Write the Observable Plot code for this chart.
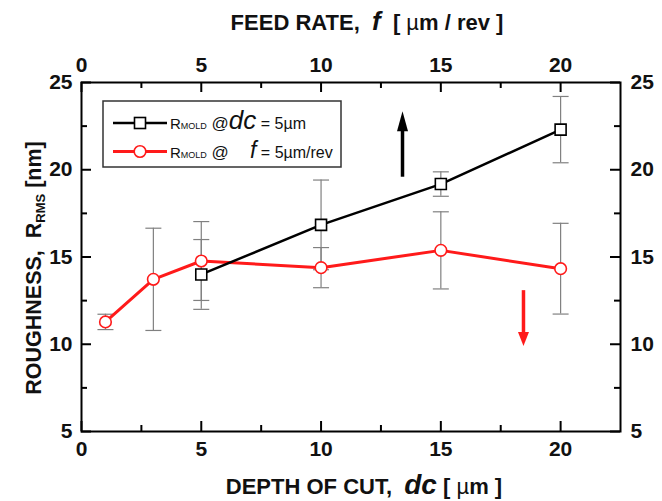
<!DOCTYPE html>
<html>
<head>
<meta charset="utf-8">
<script src="https://cdn.jsdelivr.net/npm/d3@7"></script>
<script src="https://cdn.jsdelivr.net/npm/@observablehq/plot@0.6"></script>
<style>
  html, body { margin: 0; padding: 0; background: #fff; }
  #chart svg { display: block; }
</style>
</head>
<body>
<div id="chart"></div>
<script>
// ---- data ----
// red series: R_MOLD at f = 5 µm/rev, vs depth of cut dc (bottom axis)
const dcValues = [1, 3, 5, 10, 15, 20];
const roughAtF5 = [11.28, 13.72, 14.77, 14.39, 15.38, 14.33];
const errAtF5 = [0.44, 2.93, 2.26, 1.15, 2.21, 2.6];
// black series: R_MOLD at dc = 5 µm, vs feed rate f (top axis)
const feedValues = [5, 10, 15, 20];
const roughAtDc5 = [14.0, 16.84, 19.18, 22.3];
const errAtDc5 = [2.0, 2.57, 0.7, 1.9];
// tick labels
const xMajorTicks = [0, 5, 10, 15, 20];
const xMinorTicks = [2.5, 7.5, 12.5, 17.5];
const yMajorTicks = [5, 10, 15, 20, 25];
const yMinorTicks = [7.5, 12.5, 17.5, 22.5];
// direction arrows: x, shaft start, shaft end, tip
const arrowX = [13.4, 18.45];
const arrowStart = [19.6, 13.1];
const arrowEnd = [22.3, 10.6];
const arrowTip = [23.35, 9.9];
const arrowColors = ["black", "#ff1a1a"];

const red = dcValues.map((x, i) => ({x, y: roughAtF5[i], lo: roughAtF5[i] - errAtF5[i], hi: roughAtF5[i] + errAtF5[i]}));
const black = feedValues.map((x, i) => ({x, y: roughAtDc5[i], lo: roughAtDc5[i] - errAtDc5[i], hi: roughAtDc5[i] + errAtDc5[i]}));
const errs = [...red, ...black];
const arrows = arrowX.map((x, i) => ({x, y1: arrowStart[i], y2: arrowEnd[i], tip: arrowTip[i], color: arrowColors[i], kind: i}));

const W = 662, H = 501, mL = 81, mR = 42, mT = 82, mB = 70;
const fW = W - mL - mR, fH = H - mT - mB;
const majorLen = 10, minorLen = 6;

const capSymbol = {draw(ctx, size) { const r = Math.sqrt(size / Math.PI); ctx.moveTo(-r, 0); ctx.lineTo(r, 0); }};
const headBlack = {draw(ctx) { ctx.moveTo(0, 0); ctx.lineTo(5.5, 20); ctx.lineTo(-5.5, 20); ctx.closePath(); }};
const headRed = {draw(ctx) { ctx.moveTo(0, 0); ctx.lineTo(5.5, 14); ctx.lineTo(-5.5, 14); ctx.closePath(); }};

const tickFont = {fontSize: 21, fontWeight: "bold"};

const chart = Plot.plot({
  width: W, height: H,
  marginLeft: mL, marginRight: mR, marginTop: mT, marginBottom: mB,
  style: {fontFamily: "'Liberation Sans', Arial, sans-serif", background: "white", overflow: "visible"},
  x: {domain: [0, 22.5]},
  y: {domain: [5, 25]},
  marks: [
    // axes labels
    Plot.axisX({anchor: "bottom", ticks: xMajorTicks, tickSize: 0, tickPadding: 10, label: null, tickFormat: d => d, ...tickFont, fill: "#111"}),
    Plot.axisX({anchor: "top", ticks: xMajorTicks, tickSize: 0, tickPadding: 11, label: null, tickFormat: d => d, ...tickFont, fill: "#111"}),
    Plot.axisY({anchor: "left", ticks: yMajorTicks, tickSize: 0, tickPadding: 9, label: null, tickFormat: d => d, ...tickFont, fill: "#111"}),
    Plot.axisY({anchor: "right", ticks: yMajorTicks, tickSize: 0, tickPadding: 10, label: null, tickFormat: d => d, ...tickFont, fill: "#111"}),
    // inward ticks
    Plot.tickX(xMajorTicks, {x: d => d, insetTop: fH - majorLen, strokeWidth: 2}),
    Plot.tickX(xMinorTicks, {x: d => d, insetTop: fH - minorLen, strokeWidth: 2}),
    Plot.tickX(xMajorTicks, {x: d => d, insetBottom: fH - majorLen, strokeWidth: 2}),
    Plot.tickX(xMinorTicks, {x: d => d, insetBottom: fH - minorLen, strokeWidth: 2}),
    Plot.tickY(yMajorTicks, {y: d => d, insetRight: fW - majorLen, strokeWidth: 2}),
    Plot.tickY(yMinorTicks, {y: d => d, insetRight: fW - minorLen, strokeWidth: 2}),
    Plot.tickY(yMajorTicks, {y: d => d, insetLeft: fW - majorLen, strokeWidth: 2}),
    Plot.tickY(yMinorTicks, {y: d => d, insetLeft: fW - minorLen, strokeWidth: 2}),
    // error bars
    Plot.ruleX(errs, {x: "x", y1: "lo", y2: "hi", stroke: "#808080", strokeWidth: 1.2}),
    Plot.dot(errs, {x: "x", y: "hi", symbol: capSymbol, r: 8, stroke: "#808080", strokeWidth: 1.2}),
    Plot.dot(errs, {x: "x", y: "lo", symbol: capSymbol, r: 8, stroke: "#808080", strokeWidth: 1.2}),
    // lines
    Plot.line(red, {x: "x", y: "y", stroke: "#ff1a1a", strokeWidth: 3}),
    Plot.line(black, {x: "x", y: "y", stroke: "black", strokeWidth: 2.5}),
    // markers
    Plot.dot(red, {x: "x", y: "y", symbol: "circle", r: 5.8, fill: "white", stroke: "#ff1a1a", strokeWidth: 1.6}),
    Plot.dot(black, {x: "x", y: "y", symbol: "square", r: 6.2, fill: "white", stroke: "black", strokeWidth: 1.6}),
    // arrows
    Plot.link(arrows, {x1: "x", x2: "x", y1: "y1", y2: "y2", stroke: "color", strokeWidth: 3.5}),
    Plot.dot(arrows.filter(a => a.kind === 0), {x: "x", y: "tip", symbol: headBlack, fill: "color", stroke: "none"}),
    Plot.dot(arrows.filter(a => a.kind === 1), {x: "x", y: "tip", symbol: headRed, rotate: 180, fill: "color", stroke: "none"}),
    Plot.frame({stroke: "black", strokeWidth: 2})
  ]
});
document.getElementById("chart").appendChild(chart);

// ---- titles and legend ----
const svg = d3.select(chart);
const FF = "'Liberation Sans', Arial, sans-serif";

function title(sel, parts) {
  parts.forEach(p => {
    const t = sel.append("tspan").text(p.t);
    if (p.s) t.attr("font-size", p.s);
    if (p.i) t.attr("font-style", "italic");
    if (p.w) t.attr("font-weight", p.w);
    if (p.dy) t.attr("dy", p.dy);
    if (p.x != null) t.attr("x", p.x);
  });
}

const bottomTitle = svg.append("text").attr("x", 364).attr("y", 494).attr("text-anchor", "middle")
  .attr("font-family", FF).attr("font-weight", "bold").attr("font-size", 22).attr("fill", "#111")
  .attr("xml:space", "preserve").style("white-space", "pre");
title(bottomTitle, [{t: "DEPTH OF CUT,  "}, {t: "dc", i: true, s: 28}, {t: " [ "}, {t: "µ", w: "normal"}, {t: "m ]"}]);

const topTitle = svg.append("text").attr("x", 367).attr("y", 30).attr("text-anchor", "middle")
  .attr("font-family", FF).attr("font-weight", "bold").attr("font-size", 22).attr("fill", "#111")
  .attr("xml:space", "preserve").style("white-space", "pre");
title(topTitle, [{t: "FEED RATE,  "}, {t: "f", i: true, s: 26}, {t: "  [ "}, {t: "µ", w: "normal"}, {t: "m / rev ]"}]);

const yTitle = svg.append("text").attr("transform", "translate(41,268) rotate(-90)").attr("text-anchor", "middle")
  .attr("font-family", FF).attr("font-weight", "bold").attr("font-size", 21.5).attr("fill", "#111")
  .attr("xml:space", "preserve").style("white-space", "pre");
title(yTitle, [{t: "ROUGHNESS,  R"}, {t: "RMS", s: 13, dy: 4}, {t: " [nm]", dy: -4}]);

// legend
const lg = svg.append("g");
lg.append("rect").attr("x", 103).attr("y", 101).attr("width", 238).attr("height", 66)
  .attr("fill", "white").attr("stroke", "#333").attr("stroke-width", 1.5);
const rows = [
  {y: 123, color: "black", sw: 2.5, marker: "square", parts: [
    {t: "R", x: 170, s: 15}, {t: "MOLD", s: 9}, {t: " @", s: 17},
    {t: "dc", s: 26, i: true}, {t: " = 5µm", s: 16}]},
  {y: 151.5, color: "#ff1a1a", sw: 3, marker: "circle", parts: [
    {t: "R", x: 170, s: 15}, {t: "MOLD", s: 9}, {t: " @", s: 17},
    {t: "f", x: 250, s: 23, i: true}, {t: " = 5µm/rev", s: 16}]}
];
rows.forEach(r => {
  lg.append("line").attr("x1", 113).attr("x2", 167).attr("y1", r.y).attr("y2", r.y).attr("stroke", r.color).attr("stroke-width", r.sw);
  if (r.marker === "square") {
    lg.append("rect").attr("x", 134.5).attr("y", r.y - 5.5).attr("width", 11).attr("height", 11).attr("fill", "white").attr("stroke", r.color).attr("stroke-width", 1.6);
  } else {
    lg.append("circle").attr("cx", 140).attr("cy", r.y).attr("r", 5.8).attr("fill", "white").attr("stroke", r.color).attr("stroke-width", 1.6);
  }
  const t = lg.append("text").attr("y", r.y + 6).attr("text-anchor", "start")
    .attr("font-family", FF).attr("font-size", 16).attr("fill", "#111")
    .attr("xml:space", "preserve").style("white-space", "pre");
  title(t, r.parts);
});
</script>
</body>
</html>
